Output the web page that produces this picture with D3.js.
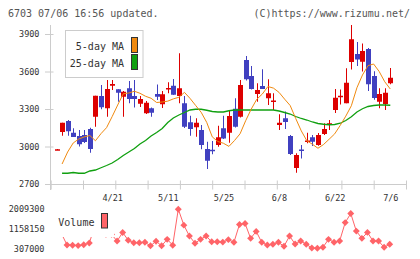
<!DOCTYPE html>
<html>
<head>
<meta charset="utf-8">
<script src="https://cdn.jsdelivr.net/npm/d3@7"></script>
<style>
  body { margin: 0; background: #fff; }
  text { font-family: "DejaVu Sans Mono", monospace; fill: #333; }
</style>
</head>
<body>
<script>
// trading days shown (2020)
var dates = ["4/7","4/8","4/9","4/10","4/13","4/14","4/15","4/16","4/17","4/20",
  "4/21","4/22","4/23","4/24","4/27","4/28","4/30","5/1","5/7","5/8",
  "5/11","5/12","5/13","5/14","5/15","5/18","5/19","5/20","5/21","5/22",
  "5/25","5/26","5/27","5/28","5/29","6/1","6/2","6/3","6/4","6/5",
  "6/8","6/9","6/10","6/11","6/12","6/15","6/16","6/17","6/18","6/19",
  "6/22","6/23","6/24","6/25","6/26","6/29","6/30","7/1","7/2","7/3","7/6"];

// prices (yen)
var opens  = [2974,3116,3204,3110,3084,3092,3140,3238,3404,3306,3486,3458,3398,3466,3404,3342,3266,3306,3420,3338,
              3464,3486,3404,3346,3194,3154,3132,2980,2974,3012,3146,3110,3302,3238,3692,3564,3420,3484,3386,3364,
              3172,3226,3084,2828,2976,3044,3074,3012,3100,3172,3292,3402,3346,3676,3740,3678,3780,3564,3358,3340,3506];
var highs  = [2980,3190,3212,3146,3132,3132,3150,3406,3492,3532,3532,3458,3444,3524,3532,3404,3364,3312,3496,3444,
              3514,3540,3746,3404,3246,3226,3172,3038,3044,3166,3246,3292,3386,3532,3724,3644,3506,3618,3538,3426,
              3258,3280,3092,2946,3012,3110,3092,3108,3186,3212,3460,3456,3626,3972,3836,3824,3788,3602,3466,3466,3628];
var lows   = [2972,3086,3086,3076,3000,3028,2950,3158,3298,3238,3452,3358,3238,3346,3312,3316,3260,3238,3372,3308,
              3426,3412,3346,3148,3086,3078,2978,2820,2938,2998,3060,3030,3152,3232,3528,3456,3358,3460,3332,3292,
              3132,3140,2932,2790,2904,3026,3004,3006,3092,3132,3268,3336,3346,3616,3644,3600,3444,3374,3306,3292,3498];
var closes = [2978,3190,3122,3076,3018,3036,2980,3406,3314,3460,3500,3430,3438,3380,3380,3380,3350,3270,3398,3418,
              3468,3414,3466,3158,3140,3190,3012,2886,2970,3074,3064,3244,3158,3492,3538,3460,3452,3460,3426,3368,
              3190,3196,2940,2932,2972,3048,3038,3092,3140,3186,3390,3406,3510,3858,3696,3764,3498,3388,3420,3430,3550];

// moving averages as drawn
var ma5  = [null,2860,2956,3028,3060,3077,3088,3046,3103,3151,3239,3332,3422,3428,3442,3426,3402,3386,3352,3356,
            3363,3381,3394,3433,3385,3329,3274,3193,3077,3040,3026,3001,3048,3102,3206,3299,3378,3420,3480,3467,
            3433,3379,3328,3224,3125,3046,3018,2986,3016,3058,3101,3169,3243,3326,3470,3572,3647,3660,3600,3518,3460];
var ma25 = [null,2786,2786,2792,2786,2786,2804,2812,2830,2848,2868,2896,2928,2956,2984,3020,3048,3084,3112,3144,
            3192,3228,3252,3272,3292,3298,3298,3290,3280,3276,3276,3286,3292,3292,3292,3292,3292,3292,3292,3292,
            3284,3272,3260,3240,3224,3212,3196,3184,3178,3174,3176,3186,3208,3238,3276,3302,3320,3328,3332,3332,3330];

// volume (shares)
var volumes = [1013000,948000,450000,437000,424000,463000,537000,1273000,1100000,913000,
               913000,623000,996000,658000,550000,545000,567000,415000,615000,415000,
               697000,441000,2009300,1316000,840000,528000,697000,840000,589000,589000,
               576000,684000,567000,1347000,1390000,740000,1043000,567000,450000,480000,
               567000,394000,840000,493000,623000,485000,320000,307000,350000,697000,
               567000,623000,1425000,1823000,1056000,740000,1000000,623000,623000,350000,485000];

var dateLabels = ["4/21","5/11","5/25","6/8","6/22","7/6"];
var priceTicks = [2700,3000,3300,3600,3900];
var volumeTicks = [307000,1158150,2009300];

var width = 420, height = 259;
var upColor = "#dd0000", downColor = "#4040c0";
var gridColor = "#cccccc";

var svg = d3.select("body").append("svg")
    .attr("width", width)
    .attr("height", height);

var x = d3.scalePoint().domain(dates).range([56.5, 390.3]);
var y = d3.scaleLinear().domain([2700, 4000]).range([184, 21.5]);
var yVol = d3.scaleLinear().domain(d3.extent(volumes)).range([248.3, 209.2]);
// evenly spaced grid ticks under the price panel
var xGrid = d3.scaleLinear().domain([0, 11]).range([50.7, 406]);

var data = dates.map(function(d, i) {
  return {date: d, o: opens[i], h: highs[i], l: lows[i], c: closes[i],
          m5: ma5[i], m25: ma25[i], v: volumes[i]};
});

// header texts
svg.append("text").attr("x", 8).attr("y", 16.5)
    .style("font-size", "10px").style("fill", "#555")
    .text("6703 07/06 16:56 updated.");
svg.append("text").attr("x", 410).attr("y", 16.5)
    .attr("text-anchor", "end")
    .style("font-size", "10px").style("fill", "#555")
    .text("(C)https://www.rizumu.net/");

// frame lines
svg.append("line").attr("x1", 50.5).attr("x2", 50.5).attr("y1", 25).attr("y2", 190)
    .attr("stroke", gridColor);
svg.append("line").attr("x1", 45).attr("x2", 406).attr("y1", 184.5).attr("y2", 184.5)
    .attr("stroke", gridColor);

// y axis
var yAxis = svg.append("g")
    .attr("transform", "translate(53.5,0)")
    .call(d3.axisLeft(y).tickValues(priceTicks).tickSize(8.5).tickPadding(5.5)
      .tickFormat(d3.format("d")));
yAxis.select(".domain").remove();
yAxis.selectAll("line").attr("stroke", gridColor);
yAxis.selectAll("text").style("font-size", "8.5px").style("fill", "#333");

// x grid ticks
var xAxis = svg.append("g")
    .attr("transform", "translate(0,180.5)")
    .call(d3.axisBottom(xGrid).tickValues(d3.range(12)).tickSize(9).tickFormat(""));
xAxis.select(".domain").remove();
xAxis.selectAll("line").attr("stroke", gridColor);

// date labels
var xLab = svg.append("g")
    .attr("transform", "translate(0,195)")
    .call(d3.axisBottom(x).tickValues(dateLabels).tickSize(0).tickPadding(0));
xLab.select(".domain").remove();
xLab.selectAll("text").style("font-size", "8.5px").style("fill", "#333");

// candles
var candles = svg.append("g").selectAll("g").data(data).enter().append("g");
candles.append("line")
    .attr("x1", d => Math.round(x(d.date)) + 0.5)
    .attr("x2", d => Math.round(x(d.date)) + 0.5)
    .attr("y1", d => y(d.h))
    .attr("y2", d => y(d.l))
    .attr("stroke", d => d.c >= d.o ? upColor : downColor);
candles.append("rect")
    .attr("x", d => Math.round(x(d.date)) - 2)
    .attr("width", 5)
    .attr("y", d => y(Math.max(d.o, d.c)))
    .attr("height", d => Math.max(1.5, y(Math.min(d.o, d.c)) - y(Math.max(d.o, d.c))))
    .attr("fill", d => d.c >= d.o ? upColor : downColor);

// moving averages
var maLine = function(key) {
  return d3.line()
    .defined(d => d[key] != null)
    .x(d => x(d.date))
    .y(d => y(d[key]));
};
svg.append("path").datum(data)
    .attr("d", maLine("m25"))
    .attr("fill", "none").attr("stroke", "#10a010").attr("stroke-width", 1.3);
svg.append("path").datum(data)
    .attr("d", maLine("m5"))
    .attr("fill", "none").attr("stroke", "#f08a10").attr("stroke-width", 1);

// legend
var leg = svg.append("g");
leg.append("rect").attr("x", 65.5).attr("y", 30.5).attr("width", 77.5).attr("height", 47)
    .attr("fill", "#fff").attr("stroke", gridColor);
leg.append("text").attr("x", 124).attr("y", 49.5).attr("text-anchor", "end")
    .style("font-size", "10px").text("5-day MA");
leg.append("text").attr("x", 124).attr("y", 67).attr("text-anchor", "end")
    .style("font-size", "10px").text("25-day MA");
leg.append("rect").attr("x", 131.5).attr("y", 37.5).attr("width", 6).attr("height", 15)
    .attr("fill", "#f08a10").attr("stroke", "#333");
leg.append("rect").attr("x", 131.5).attr("y", 54.5).attr("width", 6).attr("height", 15)
    .attr("fill", "#10a010").attr("stroke", "#333");

// volume panel
var volColor = "#ff6468";
svg.append("path").datum(data)
    .attr("d", d3.line().x(d => x(d.date) - 0.6).y(d => yVol(d.v)))
    .attr("fill", "none").attr("stroke", volColor).attr("stroke-width", 1);
svg.append("g").selectAll("path").data(data).enter().append("path")
    .attr("d", d3.symbol().type(d3.symbolSquare).size(24))
    .attr("transform", d => "translate(" + (x(d.date) - 0.6) + "," + yVol(d.v) + ") rotate(45)")
    .attr("fill", volColor);

var vAxis = svg.append("g")
    .attr("transform", "translate(44.5,0)")
    .call(d3.axisLeft(yVol).tickValues(volumeTicks).tickSize(0).tickPadding(0)
      .tickFormat(d3.format("d")));
vAxis.select(".domain").remove();
vAxis.selectAll("text").style("font-size", "8.5px").style("fill", "#333");

var vLeg = svg.append("g");
vLeg.append("rect").attr("x", 50).attr("y", 203).attr("width", 64).attr("height", 34)
    .attr("fill", "#fff");
vLeg.append("text").attr("x", 58.3).attr("y", 225.8)
    .style("font-size", "10px").text("Volume");
vLeg.append("rect").attr("x", 101.5).attr("y", 213.5).attr("width", 6).attr("height", 14.5)
    .attr("fill", volColor).attr("stroke", "#333");
</script>
</body>
</html>
